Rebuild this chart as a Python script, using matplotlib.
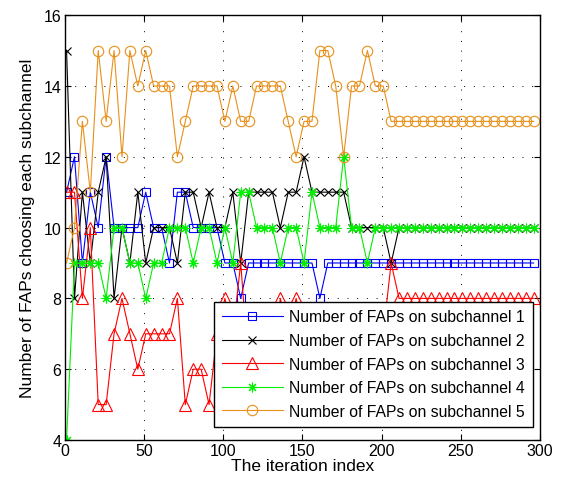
import matplotlib
matplotlib.use("Agg")
import matplotlib.pyplot as plt
import numpy as np

plt.rcParams['font.family'] = ['Liberation Sans', 'DejaVu Sans']

iterations = list(range(1, 300, 5))  # 1, 6, ..., 296

sub1 = [11, 12, 9, 11, 10, 12, 10, 10, 10, 10,
        11, 10, 10, 9, 11, 11, 10, 10, 10, 10,
        9, 9, 8, 9, 9, 9, 9, 9, 9, 9,
        9, 9, 8, 9, 9, 9, 9, 9, 9, 9] + [9] * 20
sub2 = [15, 8, 11, 9, 11, 12, 8, 10, 9, 11,
        9, 10, 10, 10, 9, 11, 11, 10, 11, 10,
        10, 11, 9, 11, 11, 11, 11, 10, 11, 11,
        12, 11, 11, 11, 11, 11, 10, 10, 10, 10,
        10, 9] + [10] * 18
sub3 = [11, 11, 8, 10, 5, 5, 7, 8, 7, 6,
        7, 7, 7, 7, 8, 5, 6, 6, 5, 7,
        8, 7, 9, 6, 6, 6, 6, 8, 7, 8,
        7, 6, 6, 5, 6, 6, 7, 7, 7, 7,
        7, 9] + [8] * 18
sub4 = [4, 9, 9, 9, 9, 8, 10, 10, 9, 9,
        8, 9, 9, 10, 10, 10, 9, 10, 10, 9,
        10, 9, 11, 11, 10, 10, 10, 9, 10, 10,
        9, 11, 10, 10, 10, 12, 10, 10, 9, 10] + [10] * 20
sub5 = [9, 10, 13, 11, 15, 13, 15, 12, 15, 14,
        15, 14, 14, 14, 12, 13, 14, 14, 14, 14,
        13, 14, 13, 13, 14, 14, 14, 14, 13, 12,
        13, 13, 15, 15, 14, 12, 14, 14, 15, 14,
        14] + [13] * 19

labels = ["Number of FAPs on subchannel 1",
          "Number of FAPs on subchannel 2",
          "Number of FAPs on subchannel 3",
          "Number of FAPs on subchannel 4",
          "Number of FAPs on subchannel 5"]

fig = plt.figure(figsize=(5.65, 4.85), dpi=100)
ax = fig.add_axes([0.115, 0.0907, 0.8407, 0.876])

orange = '#E8901A'
lw = 0.8
ax.plot(iterations, sub1, color='#0000FF', marker='s', markersize=6, mfc='none', mew=0.8, lw=lw, label=labels[0])
ax.plot(iterations, sub2, color='black', marker='x', markersize=6, mew=0.8, lw=lw, label=labels[1])
ax.plot(iterations, sub3, color='#FF0000', marker='^', markersize=8, mfc='none', mew=0.8, lw=lw, label=labels[2])
ax.plot(iterations, sub4, color='#00EE00', marker=(8, 2, 0), markersize=7, mew=0.8, lw=lw, label=labels[3])
ax.plot(iterations, sub5, color=orange, marker='o', markersize=7.5, mfc='none', mew=0.8, lw=lw, label=labels[4])

ax.set_xlim(0, 300)
ax.set_ylim(4, 16)
ax.set_xticks(np.arange(0, 301, 50))
ax.set_yticks(np.arange(4, 17, 2))
ax.tick_params(direction='in', top=True, right=True, labelsize=11.5, length=4, width=0.8, pad=2.5)
ax.grid(True, linestyle=(0, (1, 9)), color='black', linewidth=0.7)
for s in ax.spines.values():
    s.set_linewidth(1.0)

ax.set_xlabel("The iteration index", fontsize=12.5, labelpad=0)
ax.set_ylabel("Number of FAPs choosing each subchannel", fontsize=12.5, labelpad=6)

leg = ax.legend(loc='lower right', bbox_to_anchor=(0.985, 0.031), borderaxespad=0,
                fontsize=11.3, handlelength=3.9, labelspacing=0.55, borderpad=0.5,
                handletextpad=0.4, fancybox=False, framealpha=1, edgecolor='black')
leg.get_frame().set_linewidth(1.0)

fig.savefig("out.png", dpi=100)
